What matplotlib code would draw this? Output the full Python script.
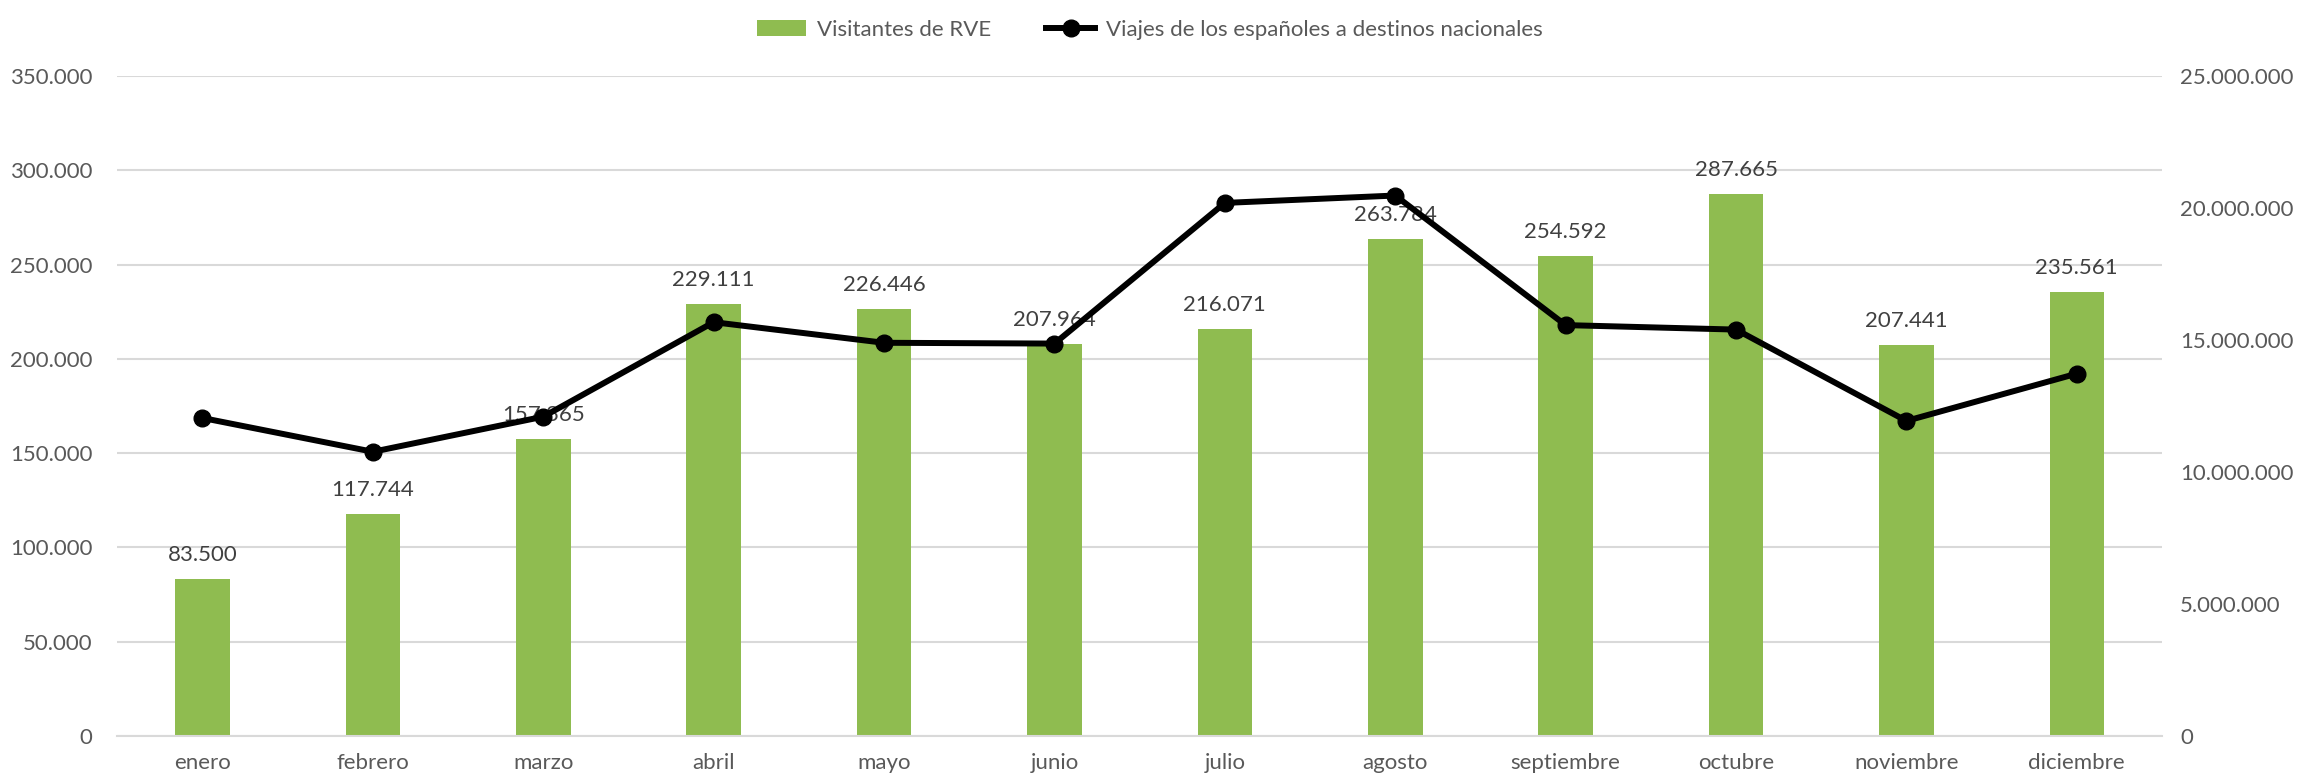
import matplotlib.pyplot as plt
from matplotlib.ticker import FuncFormatter

# datos
meses = ['enero', 'febrero', 'marzo', 'abril', 'mayo', 'junio', 'julio',
         'agosto', 'septiembre', 'octubre', 'noviembre', 'diciembre']
visitantes_rve = [83500, 117744, 157365, 229111, 226446, 207964, 216071,
                  263784, 254592, 287665, 207441, 235561]
viajes_nacionales = [12050000, 10770000, 12100000, 15680000, 14900000, 14870000,
                     20200000, 20480000, 15570000, 15400000, 11940000, 13730000]


def miles(v, pos=None):
    return '{:,.0f}'.format(v).replace(',', '.')


plt.rcParams['font.family'] = ['Lato', 'DejaVu Sans']
gris = '#595959'

fig = plt.figure(figsize=(23, 7.78), dpi=100)
ax = fig.add_axes([0.051, 0.054, 0.889, 0.848])
ax2 = ax.twinx()

x = range(len(meses))
barras = ax.bar(x, visitantes_rve, width=0.32, color='#8FBC50', zorder=2,
                label='Visitantes de RVE')
for xi, v in zip(x, visitantes_rve):
    ax.annotate(miles(v), (xi, v), xytext=(0, 10), textcoords='offset points',
                ha='center', va='bottom', fontsize=16, color='#404040', zorder=5)

linea, = ax2.plot(x, viajes_nacionales, color='black', lw=4.3, marker='o',
                  markersize=12, label='Viajes de los españoles a destinos nacionales')

ax.set_ylim(0, 350000)
ax.set_yticks(range(0, 350001, 50000))
ax2.set_ylim(0, 25000000)
ax2.set_yticks(range(0, 25000001, 5000000))
ax.yaxis.set_major_formatter(FuncFormatter(miles))
ax2.yaxis.set_major_formatter(FuncFormatter(miles))
ax.set_xlim(-0.5, len(meses) - 0.5)
ax.set_xticks(list(x))
ax.set_xticklabels(meses)

ax.grid(axis='y', color='#D9D9D9', lw=1.5, zorder=0)
ax.set_axisbelow(True)
for a in (ax, ax2):
    for s in a.spines.values():
        s.set_visible(False)
    a.tick_params(length=0, labelsize=16, labelcolor=gris)
ax.spines['bottom'].set_visible(True)
ax.spines['bottom'].set_color('#D9D9D9')
ax.spines['bottom'].set_linewidth(1.5)
ax.tick_params(axis='x', pad=12)
ax.tick_params(axis='y', pad=18)
ax2.tick_params(axis='y', pad=13)

fig.legend([barras, linea], [barras.get_label(), linea.get_label()],
           loc='upper center', bbox_to_anchor=(0.5, 1.0), ncol=2, frameon=False,
           fontsize=16, labelcolor=gris, handlelength=2.2, handletextpad=0.5,
           columnspacing=2.5)

fig.savefig('out.png', dpi=100)
